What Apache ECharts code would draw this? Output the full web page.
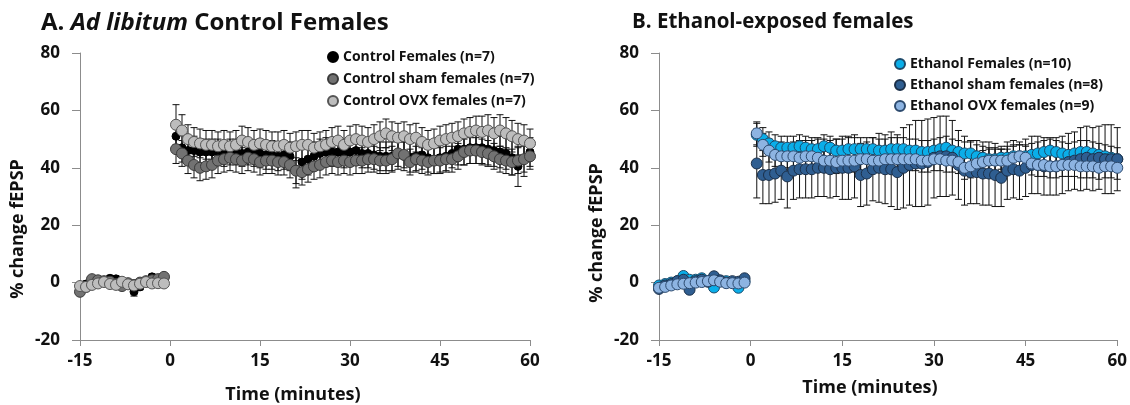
<!DOCTYPE html>
<html><head><meta charset="utf-8">
<script src="https://cdn.jsdelivr.net/npm/echarts@6/dist/echarts.min.js"></script>
<style>html,body{margin:0;padding:0;background:#fff}#c{width:1130px;height:405px}</style>
</head><body><div id="c"></div>
<script>
// ---------- data ----------
const xTicks = [-15, 0, 15, 30, 45, 60];
const yTicks = [-20, 0, 20, 40, 60, 80];
const baseTimes = [-15,-14,-13,-12,-11,-10,-9,-8,-7,-6,-5,-4,-3,-2,-1];
const postTimes = [1,2,3,4,5,6,7,8,9,10,11,12,13,14,15,16,17,18,19,20,21,22,23,24,25,26,27,28,29,30,
  31,32,33,34,35,36,37,38,39,40,41,42,43,44,45,46,47,48,49,50,51,52,53,54,55,56,57,58,59,60];

// Panel A
const ctrlFemBase = [-1.0,-0.5,0.5,1.0,0.8,1.5,1.3,0.5,0.0,-3.2,-1.5,0.3,2.0,1.0,1.5];
const ctrlFemPost = [51,47,46,46,45.5,45.5,45.5,45.5,45,45.5,45.5,45,45.5,45,45,44.5,44.5,44,44.5,44,
  39.5,42,43,44,45,45.5,45.5,45.5,45,45.5,46,45,45,44.5,44,44,44,44.5,44,43.5,
  44,44.5,43.5,43,43.5,44,45,46.5,46.5,47,47,47,46.5,46,45.5,45,43.5,40.5,43,45.5];
const ctrlFemErrBase = [1,1,1,1,1,1,1,1,1,1.5,1,1,1,1,1];
const ctrlFemErrPost = [5,5,5,5,4.5,4.5,4.5,4.5,4.5,4.5,4.5,4.5,4.5,4.5,5,5,5,5,5,5,
  6.5,6,5.5,5,5,5,5,5,5,5,5,5,5,5,5,5,5,5,5,5,
  5,5,5,5,5,5,5,5.5,5.5,5.5,5.5,5.5,5.5,5.5,5.5,5.5,6,7,6,5];
const ctrlShamBase = [-3.2,-1.5,1.2,0.8,0.5,0.3,-0.5,-1.2,-0.2,-0.8,0.0,0.5,0.8,1.2,2.0];
const ctrlShamPost = [46.5,45,42.5,41,40,40.5,41,42.5,43,43.5,43,42.5,43.5,43,42,42.5,42.5,42,42,41,
  39,38.5,39.5,40.5,41,42,42.5,42,42.5,42,42.5,42.5,43,43,42.5,42.5,43,45,44.5,42,
  43,42.5,42,42.5,42.5,43,43,44,45.5,46,46,45.5,45,44,43,42.5,42,42.5,43,44];
const ctrlShamErrBase = [1,1,1,1,1,1,1,1,1,1,1,1,1,1,1];
const ctrlShamErrPost = [5,4.5,4.5,4.5,4.5,4.5,4.5,4.5,4.5,4.5,4.5,4.5,4.5,4.5,4.5,4.5,4.5,4.5,4.5,4.5,
  4.5,4.5,4.5,4.5,4.5,4.5,4.5,4.5,4.5,4.5,4.5,4.5,4.5,4.5,4.5,4.5,4.5,4.5,4.5,4.5,
  4.5,4.5,4.5,4.5,4.5,4.5,4.5,4.5,4.5,4.5,4.5,4.5,4.5,4.5,4.5,4.5,4.5,4.5,4.5,4.5];
const ctrlOvxBase = [-1.2,-1.5,-0.8,-0.3,0.2,-0.5,-0.8,0.3,-0.6,-1.0,-0.4,0.2,-0.3,-0.2,-0.3];
const ctrlOvxPost = [55,53,50,49,48.5,48,48,47.5,48,47.5,48,49.5,49,48,48.5,48,47.5,47.5,48,47,
  47.5,48,48,47,47.5,48,49,49.5,48,49.5,50,49.5,49,50,51,52,51,50.5,51,50,
  50.5,49,48,48.5,49.5,50,50.5,51,52,52.5,53,52.5,53,52,53,52,51,50,49.5,48.5];
const ctrlOvxErrBase = [1,1,1,1,1,1,1,1,1,1,1,1,1,1,1];
const ctrlOvxErrPost = [7,5.5,5,5,5,5,5,5,5,5,5,5,5,5,5,5,5,5,5,5,
  5,5,5,5,5,5,5,5,5,5,5,5,5,5,5,5,5,5,5,5,
  5,5,5,5,5,5,5,5,5,5,5,5.5,5.5,5.5,5.5,5.5,5.5,5.5,5.5,5];

// Panel B
const ethFemBase = [-1.0,-0.5,0.0,0.5,2.3,1.0,1.0,1.5,0.5,-1.7,0.5,0.5,0.0,-1.8,0.5];
const ethFemPost = [51.5,50,48.5,47.5,47,47,47,47.5,47,46.5,46.5,47.5,47,46,46,46.5,46.5,46.5,46.5,46.5,
  46,46,46.5,46.5,46.5,46,46,45.5,45.5,46,46.5,47,46,45.5,45,45,44,43.5,43,43,
  43.5,43.5,44,44,44,44.5,45,45.5,46,45.5,45,44.5,45,45.5,45.5,45,44.5,44,43.5,43];
const ethFemErrBase = [1,1,1,1,1,1,1,1,1,1,1,1,1,1,1];
const ethFemErrPost = [4,4,4,4,4,4,4,4,4,4,4,4,4,4,4,4,4,4,4,4,
  4,4,4,4,4,4,4,4,4,4,4,4,4,4,4,4,4,4,4,4,
  4,4,4,4,4,4,4,4,4,4,4,4,4,4,4,4,4,4,4,4];
const ethShamBase = [-2.2,-1.0,-0.5,0.5,1.0,-2.5,0.5,1.0,0.3,2.2,0.8,0.0,0.5,0.3,1.5];
const ethShamPost = [41.5,37.5,37.5,38,39,37,39,39.5,39.5,39.5,40,40,39.5,40,40,40,40.5,37.5,38,39.5,
  40,39.5,39.5,38.5,40,41,41.5,41.5,42,43.5,44,44,43.5,41,39,38.5,38.5,38,38,37.5,
  36.5,39,39.5,39,40,41,41,40.5,40.5,40.5,41,42,42.5,43,43.5,43,43.5,43,43,43];
const ethShamErrBase = [1,1,1,1,1,1,1,1,1,1,1,1,1,1,1];
const ethShamErrPost = [12,10,10,10,10,11,10,10,10,10,10,10,10,10,11,11,11,11,11,11,
  12,12,13,13,14,14,15,15,15,14,14,14,13,12,12,11,11,11,11,11,
  10,10,10,10,10,10,10,10,10,10,10,10,10,11,11,11,11,12,12,11];
const ethOvxBase = [-1.8,-1.5,-1.0,-0.6,-0.4,-0.2,0.0,0.2,0.5,0.8,0.3,-0.2,-0.2,-0.3,0.0];
const ethOvxPost = [52,48,46,44.5,44,44,44,43.5,44,44,43.5,42.5,42.5,42,42.5,42.5,42.5,43,43,42.5,
  42.5,43,43,43,43,43,43,42.5,42.5,43,43,42.5,42.5,42,40,40.5,41.5,42,42.5,42.5,
  42.5,42.5,43.5,44,43.5,41.5,41,41,40.5,40.5,41,41,41,40.5,40.5,40.5,40,40.5,40.5,40];
const ethOvxErrBase = [1,1,1,1,1,1,1,1,1,1,1,1,1,1,1];
const ethOvxErrPost = [4,4,4,4,4,4,4,4,4,4,4,4,4,4,4,4,4,4,4,4,
  4,4,4,4,4,4,4,4,4,4,4,4,4,4,4,4,4,4,4,4,
  4,4,4,4,4,4,4,4,4,4,4,4,4,4,4,4,4,4,4,4];

// ---------- chart ----------
const FONT = 'Open Sans';
const times = baseTimes.concat(postTimes);
function pts(base, post) { const v = base.concat(post); return times.map((t, i) => [t, v[i]]); }
function errs(base, post, eb, ep) {
  const v = base.concat(post), e = eb.concat(ep);
  return times.map((t, i) => [t, v[i] - e[i], v[i] + e[i]]);
}
function errRender(params, api) {
  const x = api.value(0);
  const p1 = api.coord([x, api.value(1)]), p2 = api.coord([x, api.value(2)]);
  const w = 3.5, st = { stroke: '#111', lineWidth: 1 };
  return { type: 'group', children: [
    { type: 'line', shape: { x1: p1[0], y1: p1[1], x2: p2[0], y2: p2[1] }, style: st },
    { type: 'line', shape: { x1: p1[0] - w, y1: p1[1], x2: p1[0] + w, y2: p1[1] }, style: st },
    { type: 'line', shape: { x1: p2[0] - w, y1: p2[1], x2: p2[0] + w, y2: p2[1] }, style: st }
  ]};
}
function errSeries(idx, data) {
  return { type: 'custom', xAxisIndex: idx, yAxisIndex: idx, renderItem: errRender, data: data,
    encode: { x: 0, y: [1, 2] }, silent: true };
}
function dotSeries(idx, name, data, color, size, border) {
  return { type: 'scatter', name: name, xAxisIndex: idx, yAxisIndex: idx, data: data,
    symbol: 'circle', symbolSize: size,
    itemStyle: { color: color, borderColor: border, borderWidth: 1, opacity: 1 } };
}
const axisLineStyle = { lineStyle: { color: '#8c8c8c', width: 1 } };
function xAx(idx) {
  return { type: 'value', gridIndex: idx, min: xTicks[0], max: xTicks[xTicks.length - 1], interval: 15,
    axisLine: Object.assign({ onZero: false }, axisLineStyle),
    axisTick: { show: true, length: 6, lineStyle: { color: '#8c8c8c' } },
    axisLabel: { margin: 13, color: '#111', fontFamily: FONT, fontWeight: 'bold', fontSize: 17 },
    splitLine: { show: false } };
}
function yAx(idx) {
  return { type: 'value', gridIndex: idx, min: yTicks[0], max: yTicks[yTicks.length - 1], interval: 20,
    axisLine: Object.assign({ show: true, onZero: false }, axisLineStyle),
    axisTick: { show: true, length: 8, lineStyle: { color: '#8c8c8c' } },
    axisLabel: { margin: 20, color: '#111', fontFamily: FONT, fontWeight: 'bold', fontSize: 17 },
    splitLine: { show: false } };
}
const legText = { fontFamily: FONT, fontWeight: 'bold', fontSize: 14, color: '#111' };

const option = {
  animation: false,
  title: [
    { left: 36, top: 6, text: '{a|A. }{b|Ad libitum}{a| Control Females}',
      textStyle: { rich: {
        a: { fontFamily: FONT, fontWeight: 'bold', fontSize: 24, color: '#111' },
        b: { fontFamily: FONT, fontWeight: 'bold', fontStyle: 'italic', fontSize: 24, color: '#111' } } } },
    { left: 627, top: 7, text: 'B. Ethanol-exposed females',
      textStyle: { fontFamily: FONT, fontWeight: 'bold', fontSize: 20.5, color: '#111' } }
  ],
  grid: [
    { left: 80, right: 600, top: 53, bottom: 65 },
    { left: 659, right: 11, top: 53, bottom: 65 }
  ],
  xAxis: [xAx(0), xAx(1)],
  yAxis: [yAx(0), yAx(1)],
  legend: [
    { orient: 'vertical', left: 322, top: 45, itemWidth: 10, itemHeight: 10, itemGap: 8, textStyle: legText,
      data: ['Control Females (n=7)', 'Control sham females (n=7)', 'Control OVX females (n=7)'] },
    { orient: 'vertical', left: 889, top: 52, itemWidth: 10, itemHeight: 10, itemGap: 7, textStyle: legText,
      data: ['Ethanol Females (n=10)', 'Ethanol sham females (n=8)', 'Ethanol OVX females (n=9)'] }
  ],
  graphic: [
    { type: 'text', x: 18, y: 229, rotation: Math.PI / 2,
      style: { text: '% change fEPSP', font: 'bold 18px "Open Sans"', fill: '#111', align: 'center', verticalAlign: 'middle' } },
    { type: 'text', x: 597, y: 233, rotation: Math.PI / 2,
      style: { text: '% change fEPSP', font: 'bold 18px "Open Sans"', fill: '#111', align: 'center', verticalAlign: 'middle' } },
    { type: 'text', x: 293, y: 395,
      style: { text: 'Time (minutes)', font: 'bold 18px "Open Sans"', fill: '#111', align: 'center', verticalAlign: 'middle' } },
    { type: 'text', x: 870, y: 388,
      style: { text: 'Time (minutes)', font: 'bold 18px "Open Sans"', fill: '#111', align: 'center', verticalAlign: 'middle' } }
  ],
  series: [
    errSeries(0, errs(ctrlFemBase, ctrlFemPost, ctrlFemErrBase, ctrlFemErrPost)),
    dotSeries(0, 'Control Females (n=7)', pts(ctrlFemBase, ctrlFemPost), '#000000', 8, '#000'),
    errSeries(0, errs(ctrlShamBase, ctrlShamPost, ctrlShamErrBase, ctrlShamErrPost)),
    dotSeries(0, 'Control sham females (n=7)', pts(ctrlShamBase, ctrlShamPost), '#727272', 11, '#3a3a3a'),
    errSeries(0, errs(ctrlOvxBase, ctrlOvxPost, ctrlOvxErrBase, ctrlOvxErrPost)),
    dotSeries(0, 'Control OVX females (n=7)', pts(ctrlOvxBase, ctrlOvxPost), '#bdbdbd', 11, '#555'),
    errSeries(1, errs(ethFemBase, ethFemPost, ethFemErrBase, ethFemErrPost)),
    dotSeries(1, 'Ethanol Females (n=10)', pts(ethFemBase, ethFemPost), '#0aaee9', 11, '#1d4a6a'),
    errSeries(1, errs(ethShamBase, ethShamPost, ethShamErrBase, ethShamErrPost)),
    dotSeries(1, 'Ethanol sham females (n=8)', pts(ethShamBase, ethShamPost), '#2f5e91', 11, '#1b2f48'),
    errSeries(1, errs(ethOvxBase, ethOvxPost, ethOvxErrBase, ethOvxErrPost)),
    dotSeries(1, 'Ethanol OVX females (n=9)', pts(ethOvxBase, ethOvxPost), '#8db4e2', 11, '#2c4a6e')
  ]
};
const chart = echarts.init(document.getElementById('c'), null, { renderer: 'canvas' });
chart.setOption(option);
</script></body></html>
